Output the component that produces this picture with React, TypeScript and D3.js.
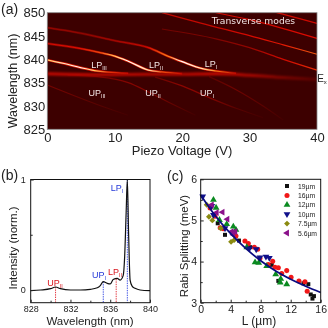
import { useEffect, useRef } from 'react'
import * as d3 from 'd3'

// Panel (a): voltage, wavelength and brightness along each mode
const lpIII = { v: [0, 2.5, 5, 7, 9, 12], wl: [839.9, 839.1, 838.2, 837.6, 837.25, 837], amp: [0.85, 0.95, 1, 0.85, 0.55, 0.38] }
const lpII = { v: [0, 5, 8, 10, 12, 15, 17, 20], wl: [843.4, 842.3, 841.4, 840.7, 839.6, 837.7, 837.3, 836.9], amp: [0.42, 0.46, 0.6, 0.85, 1, 0.92, 0.6, 0.38] }
const lpI = { v: [0, 5, 10, 15, 18, 20, 23, 25, 28], wl: [846.8, 845.6, 844, 842.5, 840.6, 839.5, 838, 837.5, 837], amp: [0.24, 0.24, 0.28, 0.42, 0.72, 1, 0.92, 0.7, 0.38] }
const transverse1 = { v: [17, 25, 30, 35, 40], wl: [850, 846.9, 845.1, 843.1, 841.1], amp: [0.36, 0.38, 0.42, 0.48, 0.62] }
const transverse2 = { v: [17, 25, 30, 35, 40], wl: [846.5, 844.4, 842.5, 840, 837.7], amp: [0.14, 0.18, 0.24, 0.4, 0.52] }
const transverse3 = { v: [25, 30, 35, 40], wl: [850, 848.5, 846.6, 844.5], amp: [0.42, 0.42, 0.42, 0.45] }
const transverse4 = { v: [34, 37, 40], wl: [850, 848.9, 847.7], amp: [0.4, 0.4, 0.4] }
const exciton = { v: [0, 8, 15, 20, 25, 30, 35, 40], wl: [836.9, 836.7, 836.8, 836.8, 836.9, 836.6, 836.1, 835.7], amp: [0.38, 0.36, 0.34, 0.34, 0.4, 0.3, 0.18, 0.08] }
const upIII = { v: [0, 4, 8, 12], wl: [834.5, 832.2, 830, 828], amp: [0.16, 0.12, 0.07, 0.02] }
const upII = { v: [3, 8, 12, 15, 18, 22], wl: [836.6, 836.2, 835, 833, 830.8, 828], amp: [0.1, 0.14, 0.2, 0.2, 0.12, 0.02] }
const upI = { v: [16, 20, 24, 28, 32], wl: [836.2, 834.3, 831.8, 829.5, 827.5], amp: [0.12, 0.22, 0.2, 0.08, 0.02] }
const upExtra = { v: [24, 28, 32, 35], wl: [836.3, 833.5, 830, 827], amp: [0.08, 0.14, 0.08, 0.02] }
const modes = [upIII, upII, upI, upExtra, transverse2, transverse1, transverse3, transverse4, exciton, lpI, lpII, lpIII]

// Panel (b): spectrum
const specWl = [828, 829, 830, 830.5, 831, 832, 833, 834, 834.7, 835, 835.3, 835.7, 836, 836.3, 836.7, 837, 837.3, 837.45, 837.6, 837.72, 837.85, 838, 838.2, 838.5, 839, 840]
const specInt = [-0.006, 0, 0.012, 0.027, 0.012, 0, 0, 0.006, 0.02, 0.04, 0.075, 0.06, 0.055, 0.095, 0.105, 0.09, 0.13, 0.3, 0.7, 1, 0.5, 0.09, 0.035, 0.015, 0, -0.006]
const peakLines = [
  { wl: 830.5, top: 0.027, color: '#e0202a' },
  { wl: 835.3, top: 0.075, color: '#2a3fe0' },
  { wl: 836.6, top: 0.1, color: '#e0202a' },
  { wl: 837.72, top: 1, color: '#2a3fe0' },
]

// Panel (c): Rabi splitting vs L, [L, splitting]
const fitL = [0, 1, 2, 3, 4, 6, 8, 10, 12, 14, 16]
const fitRabi = [5.62, 5.35, 5.1, 4.88, 4.68, 4.32, 4.02, 3.77, 3.57, 3.4, 3.25]
const s19 = [[2.27, 4.93], [3.24, 4.65], [5.1, 4.51], [6.6, 4.35], [9.47, 3.92], [10.35, 3.53], [13.7, 3.47], [14.35, 3.45], [14.67, 3.2], [14.9, 3.1], [15.1, 3.16]]
const s16 = [[1.25, 5.3], [1.9, 5.1], [2.6, 4.82], [3, 4.8], [4.7, 4.62], [5.9, 4.5], [6.35, 4.44], [7.15, 4.35], [7.6, 4.3], [7.9, 4.08], [9, 3.93], [9.6, 4.01], [9.9, 3.86], [10.35, 3.85], [10.8, 3.71], [11.47, 3.78], [12.05, 3.62], [13.1, 3.53], [13.9, 3.51], [14.2, 3.28]]
const s12 = [[1.7, 5.5], [2.05, 5.31], [2.5, 5.01], [3.47, 4.91], [4.35, 4.85], [4.7, 4.77], [6.15, 4.35], [7.25, 3.98], [7.73, 3.97], [8.8, 3.89], [10, 3.69], [10.67, 3.58], [10.6, 3.49], [11.47, 3.45]]
const s10 = [[0.27, 5.58], [1.47, 5.35], [1.7, 5.13], [3.24, 4.81], [6.5, 4.32], [7.4, 4.3], [7.9, 4.1], [8.7, 4.12], [9.15, 4.09]]
const s75 = [[0.8, 5.38], [1.1, 5.09], [1.55, 5], [2.67, 4.81], [4.05, 4.48], [4.45, 4.52]]
const s56 = [[1.47, 5.38], [2.13, 5.19], [2.9, 5.2], [3.55, 5.03], [4.13, 4.73], [4.6, 4.73], [4.35, 4.65]]
const scatterSeries = [
  { name: '19µm', data: s19, color: '#111111', symbol: d3.symbolSquare, size: 16, rot: 0 },
  { name: '16µm', data: s16, color: '#f01818', symbol: d3.symbolCircle, size: 20, rot: 0 },
  { name: '12µm', data: s12, color: '#0a8a20', symbol: d3.symbolTriangle, size: 20, rot: 0 },
  { name: '10µm', data: s10, color: '#10108a', symbol: d3.symbolTriangle, size: 20, rot: 180 },
  { name: '7.5µm', data: s75, color: '#8a8a10', symbol: d3.symbolDiamond2, size: 22, rot: 0 },
  { name: '5.6µm', data: s56, color: '#8a108a', symbol: d3.symbolTriangle, size: 20, rot: -90 },
]

const FONT = '"Liberation Sans", Arial, sans-serif'
const INK = '#222222'

// black -> red -> yellow -> white heat ramp
const heat = d3.scaleLinear<string>()
  .domain([0, 0.45, 0.8, 1])
  .range(['#3d0000', '#e00a00', '#ffb020', '#ffffff'])

function label(g: any, x: number, y: number, main: string, sub: string, color: string, size: number) {
  const t = g.append('text').attr('x', x).attr('y', y)
    .attr('text-anchor', 'middle').attr('fill', color)
    .attr('font-size', size).attr('font-family', FONT)
  t.append('tspan').text(main)
  t.append('tspan').attr('font-size', size * 0.6).attr('dy', 2).text(sub)
}

function styleAxis(sel: any, size: number) {
  sel.selectAll('text').attr('font-family', FONT).attr('font-size', size).attr('fill', INK)
  sel.selectAll('line').attr('stroke', INK)
  sel.select('.domain').remove()
}

function drawA(svg: any) {
  const left = 47.3, right = 317, top = 12.7, bottom = 129.3
  const x = d3.scaleLinear().domain([0, 40]).range([left, right])
  const y = d3.scaleLinear().domain([825, 850]).range([bottom, top])

  const defs = svg.append('defs')
  defs.append('clipPath').attr('id', 'clipA').append('rect')
    .attr('x', left).attr('y', top).attr('width', right - left).attr('height', bottom - top)
  const makeBlur = (id: string, dev: number) => {
    defs.append('filter').attr('id', id)
      .attr('filterUnits', 'userSpaceOnUse')
      .attr('color-interpolation-filters', 'sRGB')
      .attr('x', 0).attr('y', 0).attr('width', 328).attr('height', 160)
      .append('feGaussianBlur').attr('stdDeviation', dev)
  }
  makeBlur('blurA', 0.55)
  makeBlur('blurBand', 1.1)

  svg.append('rect').attr('x', left).attr('y', top)
    .attr('width', right - left).attr('height', bottom - top).attr('fill', '#3d0000')

  const plot = svg.append('g').attr('clip-path', 'url(#clipA)')
  const inner = plot.append('g').attr('filter', 'url(#blurA)')
  const band = plot.append('g').attr('filter', 'url(#blurBand)')
  // lighten so the LP tails never leave a dark stripe on the exciton band
  const top2 = plot.append('g').attr('filter', 'url(#blurA)').style('mix-blend-mode', 'lighten')
  const line = d3.line<number>()
    .x((d) => x(d))
    .curve(d3.curveMonotoneX)

  const gradient = (id: string, m: typeof lpI, gain: number) => {
    const grad = defs.append('linearGradient').attr('id', id)
      .attr('gradientUnits', 'userSpaceOnUse')
      .attr('x1', x(m.v[0])).attr('x2', x(m.v[m.v.length - 1]))
      .attr('y1', 0).attr('y2', 0)
    const span = m.v[m.v.length - 1] - m.v[0]
    m.v.forEach((v, j) => {
      grad.append('stop').attr('offset', (v - m.v[0]) / span).attr('stop-color', heat(m.amp[j] * gain))
    })
  }

  modes.forEach((m, i) => {
    const d = line.y((_, j) => y(m.wl[j]))(m.v)
    gradient(`mode${i}`, m, 1)
    if (m === exciton) {
      band.append('path').attr('d', d).attr('fill', 'none')
        .attr('stroke', `url(#mode${i})`).attr('stroke-width', 3)
      return
    }
    const bright = d3.max(m.amp)! > 0.8
    const layer = bright ? top2 : inner
    if (bright) {
      // red halo under the hot core
      gradient(`glow${i}`, m, 0.5)
      layer.append('path').attr('d', d).attr('fill', 'none')
        .attr('stroke', `url(#glow${i})`).attr('stroke-width', 2.4)
    }
    layer.append('path').attr('d', d).attr('fill', 'none')
      .attr('stroke', `url(#mode${i})`)
      .attr('stroke-width', 1.2)
  })

  svg.append('rect').attr('x', left).attr('y', top)
    .attr('width', right - left).attr('height', bottom - top)
    .attr('fill', 'none').attr('stroke', '#8a8a8a').attr('stroke-width', 0.8)

  const xAxis = svg.append('g').attr('transform', `translate(0,${bottom})`)
    .call(d3.axisBottom(x).tickValues([0, 10, 20, 30, 40]).tickSize(0).tickPadding(3))
  styleAxis(xAxis, 13)
  const yAxis = svg.append('g').attr('transform', `translate(${left},0)`)
    .call(d3.axisLeft(y).tickValues([825, 830, 835, 840, 845, 850]).tickSize(0).tickPadding(2))
  styleAxis(yAxis, 13)

  svg.append('text').attr('x', 182).attr('y', 155).attr('text-anchor', 'middle')
    .attr('font-family', FONT).attr('font-size', 13).attr('fill', INK).text('Piezo Voltage (V)')
  svg.append('text').attr('transform', `translate(17,81) rotate(-90)`).attr('text-anchor', 'middle')
    .attr('font-family', FONT).attr('font-size', 12.5).attr('fill', INK).text('Wavelength (nm)')
  svg.append('text').attr('x', 1).attr('y', 14)
    .attr('font-family', FONT).attr('font-size', 14).attr('fill', INK).text('(a)')

  const w = '#f4e6e6'
  label(svg, 99, 68, 'LP', 'III', w, 9)
  label(svg, 156, 68, 'LP', 'II', w, 9)
  label(svg, 211, 67, 'LP', 'I', w, 9)
  label(svg, 97, 96, 'UP', 'III', w, 9)
  label(svg, 153, 96, 'UP', 'II', w, 9)
  label(svg, 207, 96, 'UP', 'I', w, 9)
  label(svg, 322, 82, 'E', 'x', INK, 10)
  svg.append('text').attr('x', 253.5).attr('y', 24).attr('text-anchor', 'middle')
    .attr('font-family', '"DejaVu Sans", sans-serif').attr('font-size', 9.2).attr('fill', w)
    .text('Transverse modes')
}

function drawB(svg: any) {
  const left = 30.7, right = 150, top = 179.5, bottom = 302.7
  const x = d3.scaleLinear().domain([828, 840]).range([left, right])
  const y0 = 290, y1 = 179.5
  const y = d3.scaleLinear().domain([0, 1]).range([y0, y1])

  peakLines.forEach((p) => {
    svg.append('line').attr('x1', x(p.wl)).attr('x2', x(p.wl))
      .attr('y1', y(p.top)).attr('y2', bottom)
      .attr('stroke', p.color).attr('stroke-width', 0.9).attr('stroke-dasharray', '1.4 1')
  })
  const line = d3.line<number>().x((d) => x(d)).y((_, i) => y(specInt[i]))
    .curve(d3.curveMonotoneX)
  svg.append('path').attr('d', line(specWl)).attr('fill', 'none')
    .attr('stroke', '#111111').attr('stroke-width', 1.2)

  svg.append('rect').attr('x', left).attr('y', top)
    .attr('width', right - left).attr('height', bottom - top)
    .attr('fill', 'none').attr('stroke', '#111111').attr('stroke-width', 1)

  const xAxis = svg.append('g').attr('transform', `translate(0,${bottom})`)
    .call(d3.axisBottom(x).tickValues([828, 832, 836, 840]).tickSize(-3).tickPadding(3).tickFormat(d3.format('d')))
  styleAxis(xAxis, 9)
  const minorX = svg.append('g').attr('transform', `translate(0,${bottom})`)
    .call(d3.axisBottom(x).tickValues([830, 834, 838]).tickSize(-2).tickFormat(() => ''))
  styleAxis(minorX, 9)
  const yAxis = svg.append('g').attr('transform', `translate(${left},0)`)
    .call(d3.axisLeft(y).tickValues([0, 1]).tickSize(-3).tickPadding(5).tickFormat(d3.format('d')))
  styleAxis(yAxis, 9)
  const minorY = svg.append('g').attr('transform', `translate(${left},0)`)
    .call(d3.axisLeft(y).tickValues([0.5]).tickSize(-2).tickFormat(() => ''))
  styleAxis(minorY, 9)

  svg.append('text').attr('x', 90).attr('y', 325).attr('text-anchor', 'middle')
    .attr('font-family', FONT).attr('font-size', 11.5).attr('fill', INK).text('Wavelength (nm)')
  svg.append('text').attr('transform', `translate(17,248) rotate(-90)`).attr('text-anchor', 'middle')
    .attr('font-family', FONT).attr('font-size', 11.5).attr('fill', INK).text('Intensity (norm.)')
  svg.append('text').attr('x', 1).attr('y', 180)
    .attr('font-family', FONT).attr('font-size', 14).attr('fill', INK).text('(b)')

  label(svg, 55, 286, 'UP', 'II', '#d8141c', 9)
  label(svg, 99, 278, 'UP', 'I', '#2438d8', 9)
  label(svg, 115, 274.5, 'LP', 'II', '#d8141c', 9)
  label(svg, 117, 191, 'LP', 'I', '#2438d8', 9)
}

function drawC(svg: any) {
  const left = 200.7, right = 320.7, top = 179.3, bottom = 302.7
  const x = d3.scaleLinear().domain([0, 16]).range([left, right])
  const y = d3.scaleLinear().domain([3, 6]).range([bottom, top])
  const sym = d3.symbol()

  scatterSeries.forEach((s) => {
    svg.append('g').selectAll('path').data(s.data).join('path')
      .attr('d', sym.type(s.symbol).size(s.size)())
      .attr('transform', (d: number[]) => `translate(${x(d[0])},${y(d[1])}) rotate(${s.rot})`)
      .attr('fill', s.color)
  })

  const line = d3.line<number>().x((d) => x(d)).y((_, i) => y(fitRabi[i])).curve(d3.curveMonotoneX)
  svg.append('path').attr('d', line(fitL)).attr('fill', 'none')
    .attr('stroke', '#0a0a80').attr('stroke-width', 1.7)

  svg.append('rect').attr('x', left).attr('y', top)
    .attr('width', right - left).attr('height', bottom - top)
    .attr('fill', 'none').attr('stroke', '#111111').attr('stroke-width', 1)

  const xAxis = svg.append('g').attr('transform', `translate(0,${bottom})`)
    .call(d3.axisBottom(x).tickValues([0, 4, 8, 12, 16]).tickSize(-3).tickPadding(3))
  styleAxis(xAxis, 10.5)
  const minorX = svg.append('g').attr('transform', `translate(0,${bottom})`)
    .call(d3.axisBottom(x).tickValues([2, 6, 10, 14]).tickSize(-2).tickFormat(() => ''))
  styleAxis(minorX, 9)
  const yAxis = svg.append('g').attr('transform', `translate(${left},0)`)
    .call(d3.axisLeft(y).tickValues([3, 4, 5, 6]).tickSize(-3).tickPadding(3.5).tickFormat(d3.format('d')))
  styleAxis(yAxis, 10.5)
  const minorY = svg.append('g').attr('transform', `translate(${left},0)`)
    .call(d3.axisLeft(y).tickValues([3.5, 4.5, 5.5]).tickSize(-2).tickFormat(() => ''))
  styleAxis(minorY, 9)

  svg.append('text').attr('x', 259).attr('y', 325).attr('text-anchor', 'middle')
    .attr('font-family', FONT).attr('font-size', 12).attr('fill', INK).text('L (µm)')
  svg.append('text').attr('transform', `translate(188,246) rotate(-90)`).attr('text-anchor', 'middle')
    .attr('font-family', FONT).attr('font-size', 11.5).attr('fill', INK).text('Rabi Splitting (meV)')
  svg.append('text').attr('x', 167).attr('y', 181)
    .attr('font-family', FONT).attr('font-size', 14).attr('fill', INK).text('(c)')

  const sym2 = d3.symbol()
  const legendY = d3.scalePoint<string>().domain(scatterSeries.map((s) => s.name)).range([186, 233])
  scatterSeries.forEach((s) => {
    const ly = legendY(s.name) as number
    svg.append('path').attr('d', sym2.type(s.symbol).size(s.size)())
      .attr('transform', `translate(287,${ly}) rotate(${s.rot})`).attr('fill', s.color)
    svg.append('text').attr('x', 298).attr('y', ly + 2.5)
      .attr('font-family', FONT).attr('font-size', 6.8).attr('fill', INK).text(s.name)
  })
}

export default function App() {
  const svgRef = useRef<SVGSVGElement>(null)

  useEffect(() => {
    if (!svgRef.current) return
    const svg = d3.select(svgRef.current)
    svg.selectAll('*').remove()
    drawA(svg)
    drawB(svg)
    drawC(svg)
  }, [])

  return (
    <svg
      ref={svgRef}
      width={328}
      height={328}
      viewBox="0 0 328 328"
      style={{ position: 'fixed', left: 0, top: 0, background: '#fff', display: 'block', filter: 'blur(0.35px)' }}
    />
  )
}
